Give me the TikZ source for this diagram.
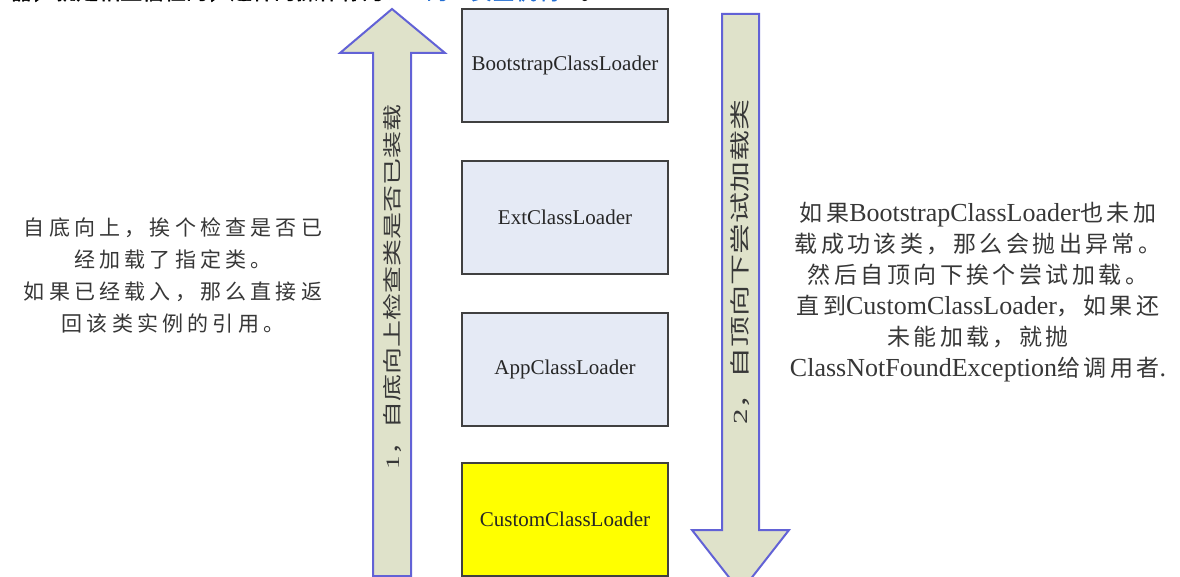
\documentclass[tikz,border=0pt]{standalone}
\usepackage{fontspec}
\setmainfont{Liberation Serif}
\newfontfamily\cjk{Noto Sans CJK SC}
\newfontfamily\cjkL[LetterSpace=20]{Noto Sans CJK SC}
\newfontfamily\cjkR[LetterSpace=15]{Noto Sans CJK SC}
\newfontfamily\cjkB[FakeBold=2]{Noto Sans CJK SC}
\newcommand\zhR[1]{{\cjkR\fontsize{23}{31}\selectfont #1}}
\definecolor{arrowfill}{RGB}{223,226,202}
\definecolor{arrowline}{RGB}{98,98,214}
\definecolor{boxfill}{RGB}{229,234,245}
\definecolor{boxline}{RGB}{64,64,64}
\definecolor{custfill}{RGB}{255,255,0}
\definecolor{txtgray}{RGB}{55,55,55}
\definecolor{linkblue}{RGB}{35,110,210}
\tikzset{
  loaderbox/.style={draw=boxline, line width=2pt, fill=boxfill, minimum width=206pt,
    minimum height=113pt, inner sep=0pt, text=black!85, font=\fontsize{21}{24}\selectfont},
  custbox/.style={loaderbox, fill=custfill, draw=black!75},
  bigarrow/.style={draw=arrowline, line width=2pt, fill=arrowfill, line join=miter},
  arrowtext/.style={rotate=90, inner sep=0pt, text=txtgray},
  note/.style={align=center, inner sep=0pt, text=txtgray}
}
\begin{document}
\begin{tikzpicture}[x=1pt,y=-1pt]
\useasboundingbox (0,0) rectangle (1180,577);
\fill[white] (0,0) rectangle (1180,577);
\clip (0,0) rectangle (1180,577);

% cut-off line of text at the top
\node[anchor=base west, inner sep=0pt, font=\cjkB\fontsize{22}{22}\selectfont] (toptext) at (10,-0.5)
  {器，就是相互信任的，这样的操作称为\textcolor{linkblue}{JVM的“安全机制”}。};

% big arrows
\draw[bigarrow] (392,9) -- (445,53) -- (411,53) -- (411,576) -- (373,576) -- (373,53) -- (340,53) -- cycle;
\draw[bigarrow] (722,14) -- (759,14) -- (759,530) -- (789,530) -- (740.5,592) -- (692,530) -- (722,530) -- cycle;

\node[arrowtext] (uptext) at (392,287)
  {\scalebox{1.42}[1]{\fontsize{19}{19}\selectfont 1{\cjk ，自底向上检查类是否已装载}}};
\node[arrowtext] (downtext) at (740.5,262)
  {\scalebox{1.55}[1]{\fontsize{20}{20}\selectfont 2{\cjk ，自顶向下尝试加载类}}};

% loaders
\node[loaderbox] (boot) at (565,65.5) {BootstrapClassLoader};
\node[loaderbox] (ext)  at (565,217.5) {ExtClassLoader};
\node[loaderbox] (app)  at (565,369) {AppClassLoader};
\node[custbox]   (cust) at (565,519) {CustomClassLoader};

% notes
\node[note, font=\cjkL\fontsize{21}{32}\selectfont] (leftnote) at (173,275.5)
  {自底向上，挨个检查是否已\\经加载了指定类。\\如果已经载入，那么直接返\\回该类实例的引用。};
\node[note, font=\fontsize{26}{31}\selectfont] (rightnote) at (978,292)
  {\zhR{如果}BootstrapClassLoader\zhR{也未加}\\
   \zhR{载成功该类，那么会抛出异常。}\\
   \zhR{然后自顶向下挨个尝试加载。}\\
   \zhR{直到}CustomClassLoader\zhR{，如果还}\\
   \zhR{未能加载，就抛}\\
   ClassNotFoundException\zhR{给调用者}.};
\end{tikzpicture}
\end{document}
